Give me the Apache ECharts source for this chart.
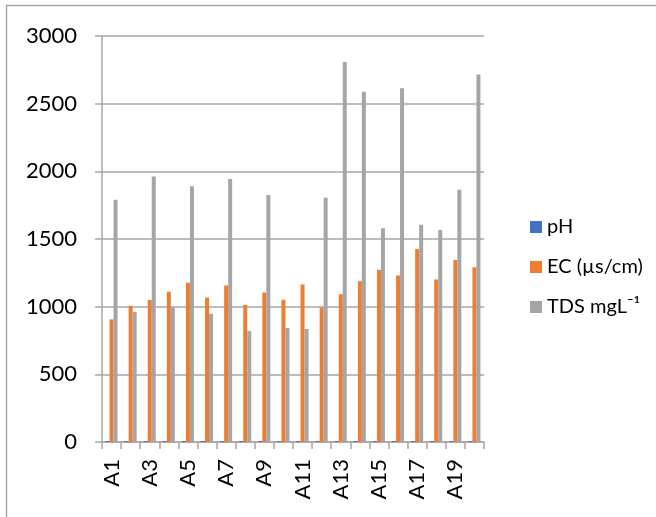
<!DOCTYPE html>
<html>
<head>
<meta charset="utf-8">
<style>
  html, body { margin: 0; padding: 0; background: #fff; }
  #chart { width: 656px; height: 517px; }
</style>
<script src="https://cdn.jsdelivr.net/npm/echarts@6/dist/echarts.min.js"></script>
</head>
<body>
<div id="chart"></div>
<script>
var CATEGORIES = ['A1', 'A2', 'A3', 'A4', 'A5', 'A6', 'A7', 'A8', 'A9', 'A10',
  'A11', 'A12', 'A13', 'A14', 'A15', 'A16', 'A17', 'A18', 'A19', 'A20'];
var PH_VALUES = [7.2, 7.4, 7.1, 7.3, 7.5, 7.2, 7.6, 7.3, 7.4, 7.1,
  7.5, 7.2, 7.3, 7.6, 7.4, 7.2, 7.5, 7.3, 7.4, 7.2];
var EC_VALUES = [906, 1007, 1050, 1111, 1176, 1067, 1156, 1013, 1104, 1052,
  1163, 993, 1092, 1188, 1272, 1230, 1427, 1200, 1344, 1292];
var TDS_VALUES = [1790, 963, 1961, 993, 1889, 948, 1944, 820, 1825, 842,
  835, 1805, 2808, 2588, 1580, 2613, 1605, 1566, 1864, 2716];
var SERIES_NAMES = ['pH', 'EC (\u00b5s/cm)', 'TDS mgL\u207b\u00b9'];
var SERIES_COLORS = ['#4472C4', '#ED7D31', '#A5A5A5'];

var FONT = 'Lato, "Open Sans", sans-serif';
var GRID_COLOR = '#A6A6A6';

var chart = echarts.init(document.getElementById('chart'), null, { renderer: 'canvas' });

function barSeries(idx, data) {
  return {
    name: SERIES_NAMES[idx],
    type: 'bar',
    data: data,
    barWidth: 4,
    barGap: '0%',
    itemStyle: { color: SERIES_COLORS[idx] },
    emphasis: { disabled: true }
  };
}

chart.setOption({
  animation: false,
  color: SERIES_COLORS,
  textStyle: { fontFamily: FONT },
  grid: { left: 102, right: 172, top: 36, bottom: 75, containLabel: false },
  legend: {
    orient: 'vertical',
    left: 525,
    top: 212,
    itemWidth: 12,
    itemHeight: 12,
    itemGap: 20,
    icon: 'rect',
    textStyle: { fontFamily: FONT, fontSize: 20, color: '#000' },
    data: SERIES_NAMES
  },
  xAxis: {
    type: 'category',
    data: CATEGORIES,
    boundaryGap: true,
    axisLine: { lineStyle: { color: GRID_COLOR, width: 1.5 } },
    axisTick: { show: true, length: 7, interval: 0, alignWithLabel: false, lineStyle: { color: GRID_COLOR, width: 1.5 } },
    axisLabel: { interval: 1, rotate: 90, fontSize: 22, color: '#000', fontFamily: FONT, margin: 17 }
  },
  yAxis: {
    type: 'value',
    min: 0,
    max: 3000,
    interval: 500,
    axisLine: { show: true, lineStyle: { color: GRID_COLOR, width: 1.5 } },
    axisTick: { show: true, length: 7, lineStyle: { color: GRID_COLOR, width: 1.5 } },
    axisLabel: {
      fontSize: 22, color: '#000', fontFamily: FONT, margin: 25,
      formatter: function (v) { return String(v); }
    },
    splitLine: { lineStyle: { color: GRID_COLOR, width: 1.5 } }
  },
  graphic: [{
    type: 'rect',
    shape: { x: 6.5, y: 5.5, width: 700, height: 600 },
    style: { fill: null, stroke: '#A6A6A6', lineWidth: 1.5 },
    silent: true
  }],
  series: [
    barSeries(0, PH_VALUES),
    barSeries(1, EC_VALUES),
    barSeries(2, TDS_VALUES)
  ]
});
</script>
</body>
</html>
